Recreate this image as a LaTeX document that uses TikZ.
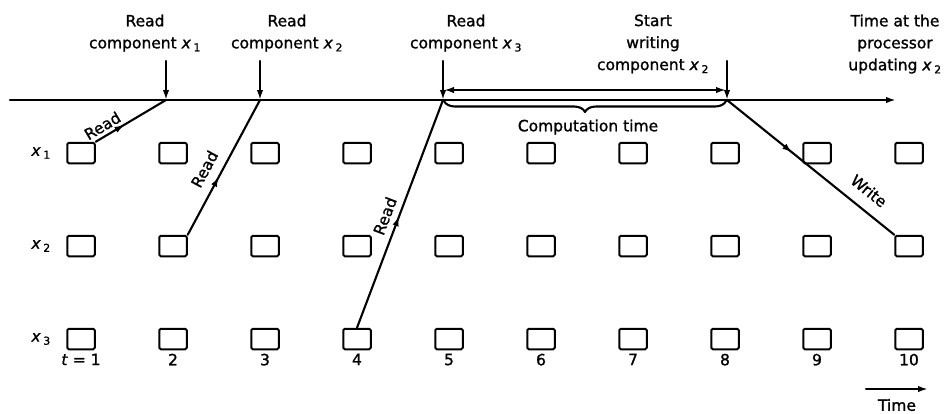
\documentclass[tikz,border=0pt]{standalone}
\usepackage{fontspec}
\setmainfont{DejaVu Sans}[FakeBold=1.2]
\usetikzlibrary{arrows.meta,decorations.pathreplacing,decorations.markings}

\newcommand{\xsub}[1]{\textit{x}\,\textsubscript{#1}}

\begin{document}
\begin{tikzpicture}[
	x=1pt, y=-1pt,
	every node/.style={font=\fontsize{15.5}{22}\selectfont},
	cell/.style={draw, line width=2pt, rounded corners=1.5pt, minimum width=27.5pt, minimum height=20.5pt, inner sep=0pt},
	link/.style={line width=2.1pt},
	tip/.style={-{Latex[length=10pt,width=6.5pt]}, line width=2.1pt},
	midtip/.style={postaction={decorate}, decoration={markings, mark=at position #1 with {\arrow{Latex[length=10pt,width=6.5pt]}}}},
	line cap=round,
	line join=round
	]
	
	\useasboundingbox (0,0) rectangle (946,413);
	
	% time axis of the processor
	\coordinate (start) at (10,100);
	\coordinate (stop) at (896,100);
	\coordinate (r1) at (166,100);
	\coordinate (r2) at (260,100);
	\coordinate (r3) at (443,100);
	\coordinate (w) at (727,100);
	\draw[tip, line width=2.4pt] (start) -- (stop);
	
	% memory cells x1, x2, x3 at t = 1..10
	\foreach \c in {1,...,10}
	\foreach \r/\y in {1/153,2/246,3/339}
	\node[cell] (b\r-\c) at ({81+92*(\c-1)},\y) {};
	
	\foreach \r in {1,2,3}
	\node[anchor=east] (lab\r) at ([xshift=-12pt]b\r-1.west) {\xsub{\r}};
	
	\node[below=0pt] (t1) at (b3-1.south) {\textit{t} = 1};
	\foreach \c in {2,...,10}
	\node[below=0pt] (t\c) at (b3-\c.south) {\c};
	
	% events on top
	\node[anchor=north, align=center] (ev1) at (145,11) {Read\\component \xsub{1}};
	\node[anchor=north, align=center] (ev2) at (287,11) {Read\\component \xsub{2}};
	\node[anchor=north, align=center] (ev3) at (466,11) {Read\\component \xsub{3}};
	\node[anchor=north, align=center] (ev4) at (653,11) {Start\\writing\\component \xsub{2}};
	\node[anchor=north, align=center] (ev5) at (895,11) {Time at the\\processor\\updating \xsub{2}};
	
	\coordinate (a1) at (166,61);
	\coordinate (a2) at (260,61);
	\coordinate (a3) at (443,61);
	\coordinate (a4) at (727,61);
	\draw[tip] (a1) -- (r1);
	\draw[tip] (a2) -- (r2);
	\draw[tip] (a3) -- (r3);
	\draw[tip] (a4) -- (w);
	
	% computation interval
	\coordinate (c1) at (444,90);
	\coordinate (c2) at (726,90);
	\draw[{Latex[length=10pt,width=6.5pt]}-{Latex[length=10pt,width=6.5pt]}, line width=2.1pt] (c1) -- (c2);
	\coordinate (k1) at (444,101);
	\coordinate (k2) at (726,101);
	\draw[link, decorate, decoration={brace, mirror, amplitude=11pt}] (k1) -- (k2);
	\node (comp) at (588,127) {Computation time};
	
	% reads and write
	\draw[link, midtip=0.41] (b1-1.north east) -- (r1)
	node[pos=0.17, above, sloped] {Read};
	\draw[link, midtip=0.43] (b2-2.north east) -- (r2)
	node[pos=0.43, above=6pt, sloped] {Read};
	\draw[link, midtip=0.49] (b3-4.north) -- (r3)
	node[pos=0.47, above=3pt, sloped] {Read};
	\draw[link, midtip=0.39] (w) -- (b2-10.north west)
	node[pos=0.78, above=8pt, sloped] {Write};
	
	% time direction
	\coordinate (d1) at (866,389);
	\coordinate (d2) at (928,389);
	\draw[tip] (d1) -- (d2);
	\node (dlab) at (897,405) {Time};
	
\end{tikzpicture}
\end{document}
